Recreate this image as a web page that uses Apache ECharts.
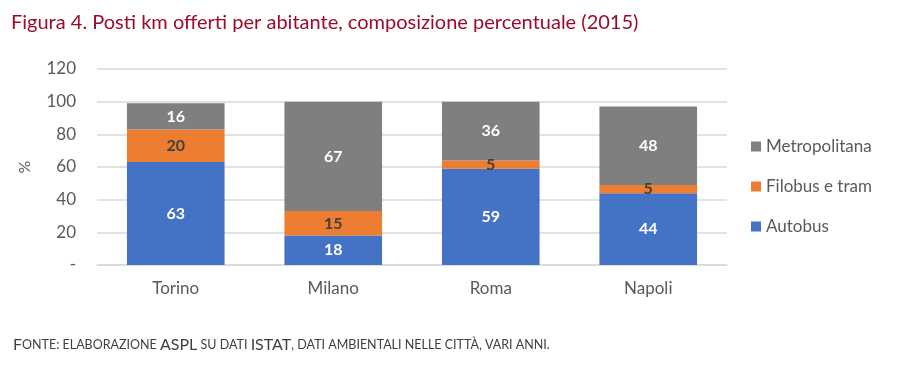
<!DOCTYPE html>
<html><head><meta charset="utf-8">
<script src="https://cdn.jsdelivr.net/npm/echarts@6/dist/echarts.min.js"></script>
<style>html,body{margin:0;padding:0;background:#fff}#c{width:901px;height:370px}</style>
</head><body><div id="c"></div>
<script>
const categories = ['Torino', 'Milano', 'Roma', 'Napoli'];
const autobus = [63, 18, 59, 44];
const filobus = [20, 15, 5, 5];
const metropolitana = [16, 67, 36, 48];
const yTicks = ['-', '20', '40', '60', '80', '100', '120'];

const FONT = 'Lato';
const chart = echarts.init(document.getElementById('c'));
const lbl = (color) => ({show: true, position: 'inside', color: color, fontFamily: FONT, fontWeight: 'bold', fontSize: 16});
chart.setOption({
  animation: false,
  textStyle: {fontFamily: FONT},
  title: [{
    text: 'Figura 4. Posti km offerti per abitante, composizione percentuale (2015)',
    left: 6, top: 8,
    textStyle: {color: '#9E0A2A', fontSize: 20, fontWeight: 'normal', fontFamily: FONT}
  }, {
    text: '{b|F}{s|ONTE: ELABORAZIONE }{b|ASPL}{s| SU DATI }{b|ISTAT}{s|, DATI AMBIENTALI NELLE CITTÀ, VARI ANNI.}',
    left: 8, top: 332,
    textStyle: {rich: {
      b: {fontSize: 16, color: '#404040', fontFamily: FONT, fontWeight: 'normal'},
      s: {fontSize: 12.5, color: '#404040', fontFamily: FONT, fontWeight: 'normal'}
    }}
  }],
  legend: {
    orient: 'vertical', left: 746, top: 133, itemGap: 23,
    itemWidth: 10, itemHeight: 10, icon: 'rect',
    data: ['Metropolitana', 'Filobus e tram', 'Autobus'],
    textStyle: {fontSize: 17, color: '#595959', fontFamily: FONT}
  },
  grid: {left: 97, right: 174, top: 69, bottom: 105},
  xAxis: {
    type: 'category', data: categories,
    axisTick: {show: false},
    axisLine: {lineStyle: {color: '#d9d9d9', width: 1.5}},
    axisLabel: {color: '#595959', fontSize: 17, margin: 15, fontFamily: FONT}
  },
  yAxis: {
    type: 'value', min: 0, max: 120, interval: 20,
    name: '%', nameLocation: 'middle', nameGap: 64, nameRotate: 90,
    nameTextStyle: {color: '#595959', fontSize: 16, fontFamily: FONT},
    axisLine: {show: false}, axisTick: {show: false},
    splitLine: {lineStyle: {color: '#d9d9d9', width: 1.5}},
    axisLabel: {color: '#595959', fontSize: 17, margin: 21, fontFamily: FONT,
      formatter: (v) => yTicks[Math.round(v / 20)]}
  },
  series: [
    {name: 'Autobus', type: 'bar', stack: 't', data: autobus, barWidth: '62%', itemStyle: {color: '#4472C4'}, label: lbl('#ffffff')},
    {name: 'Filobus e tram', type: 'bar', stack: 't', data: filobus, itemStyle: {color: '#ED7D31'}, label: lbl('#404040')},
    {name: 'Metropolitana', type: 'bar', stack: 't', data: metropolitana, itemStyle: {color: '#7F7F7F'}, label: lbl('#ffffff')}
  ]
});
</script></body></html>
